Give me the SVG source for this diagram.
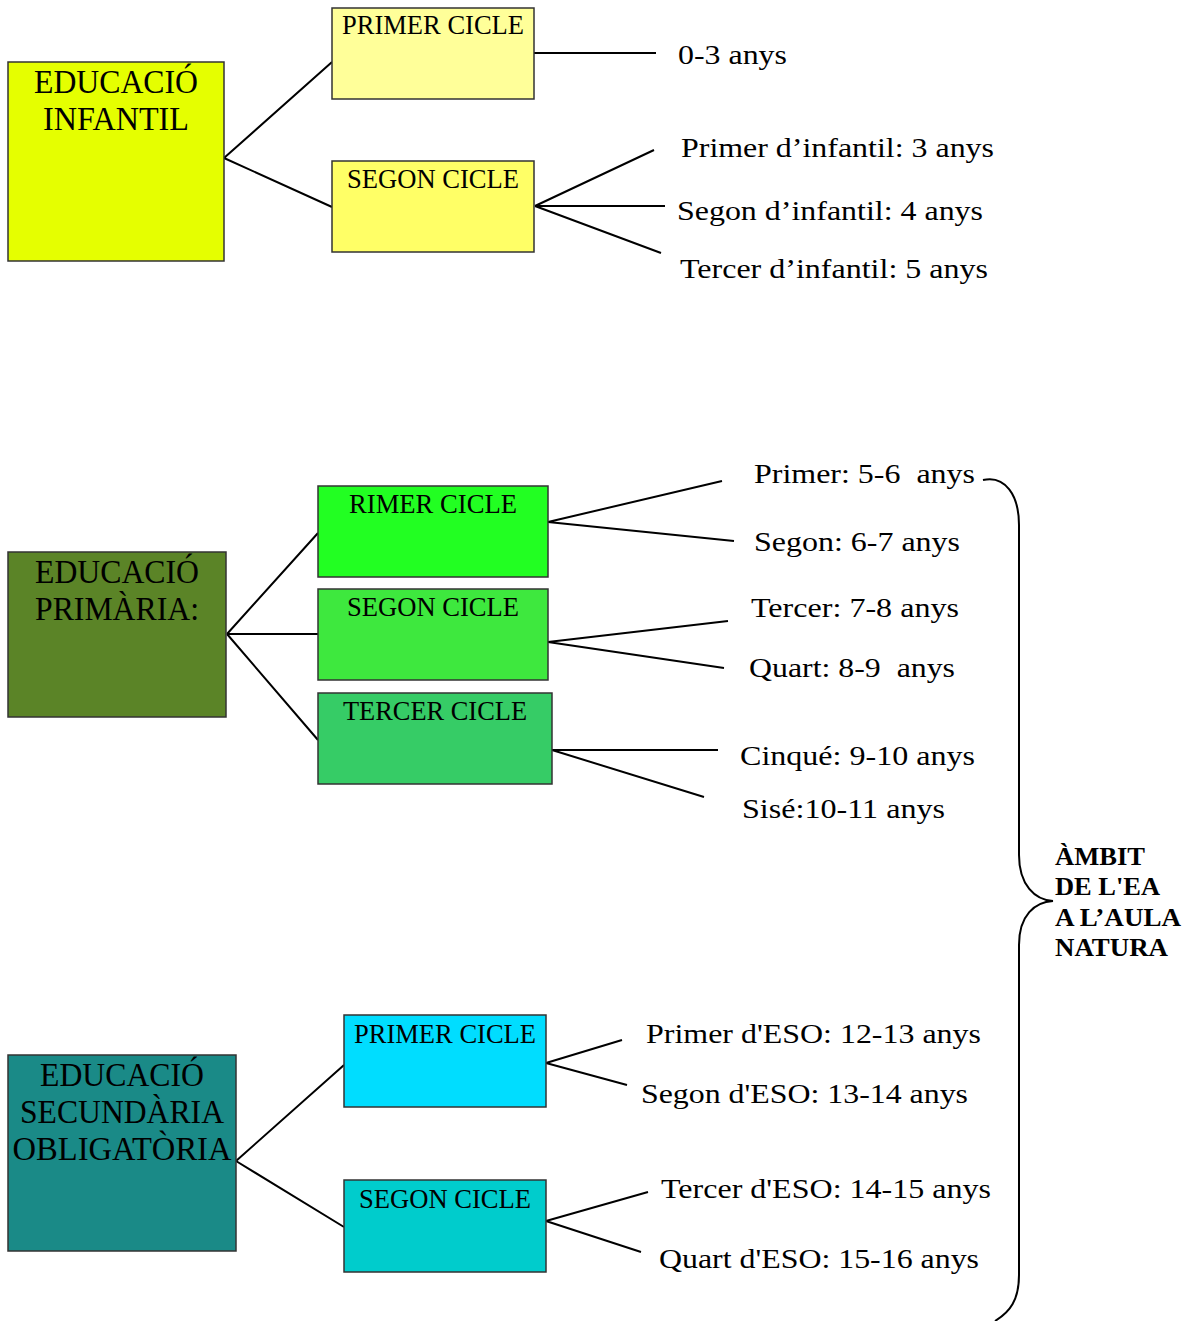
<svg xmlns="http://www.w3.org/2000/svg" width="1188" height="1321" viewBox="0 0 1188 1321">
<style>
.box{stroke:#333;stroke-width:1.5}
text{font-family:"Liberation Serif","Times New Roman",serif;fill:#000}
.big{font-size:33px;text-anchor:middle}
.lbl{font-size:27px;text-anchor:middle}
.t{font-size:28px}
.b{font-size:26px;font-weight:bold}
.c{stroke:#000;stroke-width:2;fill:none}
</style>
<rect width="1188" height="1321" fill="#fff"/>
<g id="connectors">
<path class="c" d="M224,158 L332,62 M224,158 L332,207 M534,53 L656,53 M535,206 L654,150 M535,206 L665,206 M535,206 L661,253"/>
<path class="c" d="M227,634 L318,533 M227,634 L318,634 M227,634 L318,740 M548,522 L722,481 M548,522 L734,541 M548,642 L728,621 M548,642 L724,668 M552,750 L718,750 M552,750 L704,797"/>
<path class="c" d="M236,1161 L344,1065 M236,1161 L344,1227 M546,1063 L622,1040 M546,1063 L627,1085 M546,1221 L648,1192 M546,1221 L641,1252"/>
<path class="c" d="M983,480 C1005,475 1019,495 1019,525 L1019,855 C1019,885 1035,900 1053,901 C1035,902 1019,915 1019,945 L1019,1275 C1019,1300 1010,1312 995,1321"/>
</g>
<g id="infantil">
<rect class="box" x="8" y="62" width="216" height="199" fill="#E5FF00"/>
<text class="big" x="116" y="93" textLength="164" lengthAdjust="spacingAndGlyphs">EDUCACIÓ</text>
<text class="big" x="116" y="130" textLength="146" lengthAdjust="spacingAndGlyphs">INFANTIL</text>
</g>
<g id="inf-primer">
<rect class="box" x="332" y="8" width="202" height="91" fill="#FFFF99"/>
<text class="lbl" x="433" y="34" textLength="182" lengthAdjust="spacingAndGlyphs">PRIMER CICLE</text>
</g>
<g id="inf-segon">
<rect class="box" x="332" y="161" width="202" height="91" fill="#FFFF66"/>
<text class="lbl" x="433" y="188" textLength="172" lengthAdjust="spacingAndGlyphs">SEGON CICLE</text>
</g>
<g id="inf-texts">
<text class="t" x="678" y="64" textLength="109" lengthAdjust="spacingAndGlyphs">0-3 anys</text>
<text class="t" x="681" y="157" textLength="313" lengthAdjust="spacingAndGlyphs">Primer d’infantil: 3 anys</text>
<text class="t" x="677" y="220" textLength="306" lengthAdjust="spacingAndGlyphs">Segon d’infantil: 4 anys</text>
<text class="t" x="680" y="278" textLength="308" lengthAdjust="spacingAndGlyphs">Tercer d’infantil: 5 anys</text>
</g>
<g id="primaria">
<rect class="box" x="8" y="552" width="218" height="165" fill="#5B8427"/>
<text class="big" x="117" y="583" textLength="164" lengthAdjust="spacingAndGlyphs">EDUCACIÓ</text>
<text class="big" x="117" y="620" textLength="164" lengthAdjust="spacingAndGlyphs">PRIMÀRIA:</text>
</g>
<g id="pri-primer">
<rect class="box" x="318" y="486" width="230" height="91" fill="#22FF22"/>
<text class="lbl" x="433" y="513" textLength="168" lengthAdjust="spacingAndGlyphs">RIMER CICLE</text>
</g>
<g id="pri-segon">
<rect class="box" x="318" y="589" width="230" height="91" fill="#3EE83E"/>
<text class="lbl" x="433" y="616" textLength="172" lengthAdjust="spacingAndGlyphs">SEGON CICLE</text>
</g>
<g id="pri-tercer">
<rect class="box" x="318" y="693" width="234" height="91" fill="#36CC66"/>
<text class="lbl" x="435" y="720" textLength="184" lengthAdjust="spacingAndGlyphs">TERCER CICLE</text>
</g>
<g id="pri-texts">
<text class="t" x="754" y="483" xml:space="preserve" textLength="221" lengthAdjust="spacingAndGlyphs">Primer: 5-6  anys</text>
<text class="t" x="754" y="551" textLength="206" lengthAdjust="spacingAndGlyphs">Segon: 6-7 anys</text>
<text class="t" x="751" y="617" textLength="208" lengthAdjust="spacingAndGlyphs">Tercer: 7-8 anys</text>
<text class="t" x="749" y="677" xml:space="preserve" textLength="206" lengthAdjust="spacingAndGlyphs">Quart: 8-9  anys</text>
<text class="t" x="740" y="765" textLength="235" lengthAdjust="spacingAndGlyphs">Cinqué: 9-10 anys</text>
<text class="t" x="742" y="818" textLength="203" lengthAdjust="spacingAndGlyphs">Sisé:10-11 anys</text>
</g>
<g id="secundaria">
<rect class="box" x="8" y="1055" width="228" height="196" fill="#1A8A87"/>
<text class="big" x="122" y="1086" textLength="164" lengthAdjust="spacingAndGlyphs">EDUCACIÓ</text>
<text class="big" x="122" y="1123" textLength="204" lengthAdjust="spacingAndGlyphs">SECUNDÀRIA</text>
<text class="big" x="122" y="1160" textLength="219" lengthAdjust="spacingAndGlyphs">OBLIGATÒRIA</text>
</g>
<g id="sec-primer">
<rect class="box" x="344" y="1015" width="202" height="92" fill="#00DDFF"/>
<text class="lbl" x="445" y="1043" textLength="182" lengthAdjust="spacingAndGlyphs">PRIMER CICLE</text>
</g>
<g id="sec-segon">
<rect class="box" x="344" y="1180" width="202" height="92" fill="#00CCCC"/>
<text class="lbl" x="445" y="1208" textLength="172" lengthAdjust="spacingAndGlyphs">SEGON CICLE</text>
</g>
<g id="sec-texts">
<text class="t" x="646" y="1043" textLength="335" lengthAdjust="spacingAndGlyphs">Primer d'ESO: 12-13 anys</text>
<text class="t" x="641" y="1103" textLength="327" lengthAdjust="spacingAndGlyphs">Segon d'ESO: 13-14 anys</text>
<text class="t" x="661" y="1198" textLength="330" lengthAdjust="spacingAndGlyphs">Tercer d'ESO: 14-15 anys</text>
<text class="t" x="659" y="1268" textLength="320" lengthAdjust="spacingAndGlyphs">Quart d'ESO: 15-16 anys</text>
</g>
<g id="ambit">
<text class="b" x="1055" y="865" textLength="90" lengthAdjust="spacingAndGlyphs">ÀMBIT</text>
<text class="b" x="1055" y="895" textLength="105" lengthAdjust="spacingAndGlyphs">DE L'EA</text>
<text class="b" x="1055" y="926" textLength="126" lengthAdjust="spacingAndGlyphs">A L’AULA</text>
<text class="b" x="1055" y="956" textLength="113" lengthAdjust="spacingAndGlyphs">NATURA</text>
</g>
</svg>
